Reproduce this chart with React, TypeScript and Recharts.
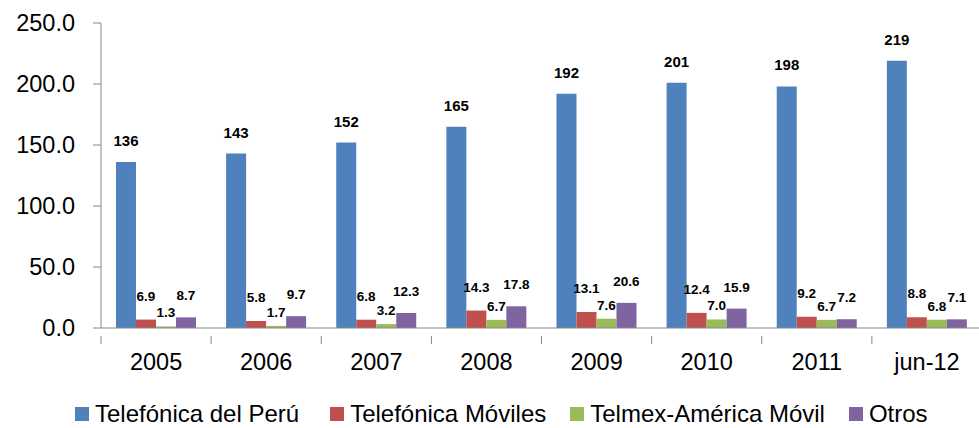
import React from 'react';
import { BarChart, Bar, XAxis, YAxis, Legend, LabelList } from 'recharts';

const categories = ['2005', '2006', '2007', '2008', '2009', '2010', '2011', 'jun-12'];
const telefonicaPeru = [136, 143, 152, 165, 192, 201, 198, 219];
const telefonicaMoviles = [6.9, 5.8, 6.8, 14.3, 13.1, 12.4, 9.2, 8.8];
const telmexAmericaMovil = [1.3, 1.7, 3.2, 6.7, 7.6, 7.0, 6.7, 6.8];
const otros = [8.7, 9.7, 12.3, 17.8, 20.6, 15.9, 7.2, 7.1];
const yTicks = [0, 50, 100, 150, 200, 250];

const seriesNames = ['Telefónica del Perú', 'Telefónica Móviles', 'Telmex-América Móvil', 'Otros'];
const colors = ['#4F81BD', '#C0504D', '#9BBB59', '#8064A2'];
const keys = ['peru', 'moviles', 'telmex', 'otros'];
const labelOffsets = [16, 19, 9, 17];
const labelSizes = [15, 13.5, 13.5, 13.5];

const data = categories.map((c, i) => ({
  cat: c,
  peru: telefonicaPeru[i],
  moviles: telefonicaMoviles[i],
  telmex: telmexAmericaMovil[i],
  otros: otros[i],
}));

const FONT = '"Liberation Sans", Arial, sans-serif';
const AXIS = '#868686';

const CategoryTick = (props: any) => {
  const { x, y, payload, index, visibleTicksCount } = props;
  const half = payload && payload.offset ? payload.offset : 0;
  const isLast = index === visibleTicksCount - 1;
  return (
    <g>
      <line x1={x - half} x2={x - half} y1={y - 17} y2={y - 9} stroke={AXIS} strokeWidth={1} />
      {isLast && <line x1={x + half} x2={x + half} y1={y - 17} y2={y - 9} stroke={AXIS} strokeWidth={1} />}
      <text x={x} y={y} dy="0.71em" textAnchor="middle" fill="#000" fontSize={23.5} fontFamily={FONT}>
        {payload.value}
      </text>
    </g>
  );
};

const LegendContent = () => (
  <div
    style={{
      height: 28,
      display: 'flex',
      alignItems: 'center',
      paddingLeft: 75,
      fontFamily: FONT,
      fontSize: 24,
      color: '#000',
      whiteSpace: 'nowrap',
      boxSizing: 'border-box',
    }}
  >
    {seriesNames.map((n, i) => (
      <div key={n} style={{ display: 'flex', alignItems: 'center', marginRight: i === 0 ? 31 : 24 }}>
        <span style={{ display: 'inline-block', width: 14, height: 14, background: colors[i], marginRight: 6 }} />
        <span style={{ lineHeight: '28px' }}>{n}</span>
      </div>
    ))}
  </div>
);

export default function App() {
  return (
    <div style={{ position: 'absolute', left: 0, top: 0, width: 979, height: 428, overflow: 'hidden', background: '#fff' }}>
      <BarChart
        width={982}
        height={428}
        data={data}
        margin={{ top: 23, right: 0, bottom: 0, left: 0 }}
        barCategoryGap="13.6%"
        barGap={0}
      >
        <XAxis
          dataKey="cat"
          axisLine={{ stroke: AXIS, strokeWidth: 1 }}
          tickLine={false}
          tickSize={8}
          tickMargin={17}
          height={72}
          tick={<CategoryTick />}
          interval={0}
        />
        <YAxis
          width={101}
          domain={[0, 250]}
          ticks={yTicks}
          tickFormatter={(v: number) => v.toFixed(1)}
          axisLine={{ stroke: AXIS, strokeWidth: 1 }}
          tickLine={{ stroke: AXIS, strokeWidth: 1 }}
          tickSize={8}
          tickMargin={18}
          tick={{ fill: '#000', fontSize: 23.5, fontFamily: FONT }}
        />
        <Legend verticalAlign="bottom" content={<LegendContent />} />
        {keys.map((k, i) => (
          <Bar key={k} dataKey={k} name={seriesNames[i]} fill={colors[i]} isAnimationActive={false}>
            <LabelList
              dataKey={k}
              position="top"
              offset={labelOffsets[i]}
              formatter={(v: number) => (i === 0 ? String(Math.round(v)) : v.toFixed(1))}
              style={{ fill: '#000', fontSize: labelSizes[i], fontWeight: 'bold', fontFamily: FONT }}
            />
          </Bar>
        ))}
      </BarChart>
    </div>
  );
}
